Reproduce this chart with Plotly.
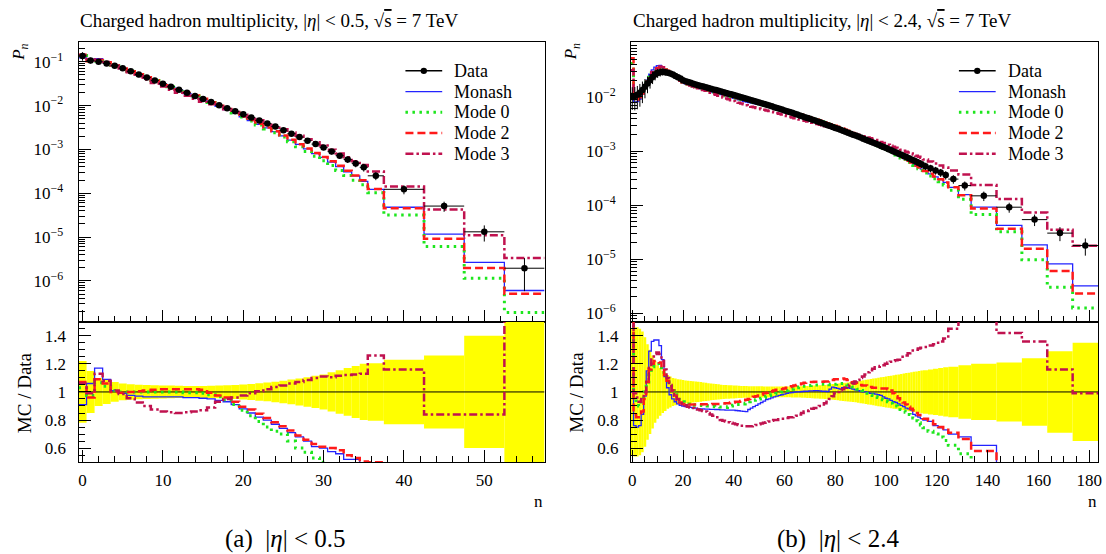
import plotly.graph_objects as go

# ------------------------------------------------------------------ data
# (a) |eta| < 0.5 : bin edges in n
edges_a = [x - 0.5 for x in range(0, 37)] + [37.5, 42.5, 47.5, 52.5, 57.5]
# data P_n
data_a = [0.135, 0.107, 0.100, 0.0912, 0.0813, 0.0708, 0.0603, 0.0513, 0.0437, 0.0372,
          0.0316, 0.0269, 0.0229, 0.0195, 0.0166, 0.0141, 0.0120, 0.0102, 0.0087, 0.0074,
          0.0063, 0.00537, 0.00457, 0.00389, 0.00331, 0.00275, 0.00229, 0.00191, 0.00158, 0.00132,
          0.00110, 0.00089, 0.00072, 0.00059, 0.00048, 0.00039,
          0.00025, 0.000123, 5.1e-5, 1.32e-5, 1.95e-6]
# relative data uncertainty
err_a = [0.22, 0.15, 0.10, 0.085, 0.07, 0.06, 0.055, 0.052, 0.05, 0.048,
         0.046, 0.045, 0.044, 0.043, 0.043, 0.043, 0.044, 0.045, 0.047, 0.05,
         0.053, 0.057, 0.062, 0.067, 0.073, 0.08, 0.088, 0.096, 0.105, 0.115,
         0.125, 0.14, 0.155, 0.17, 0.185, 0.2,
         0.205, 0.23, 0.26, 0.40, 0.70]
# MC / Data ratios
monash_a = [0.91, 1.06, 1.17, 1.09, 1.01, 0.99, 0.975, 0.97, 0.965, 0.965,
            0.965, 0.965, 0.965, 0.96, 0.96, 0.955, 0.95, 0.94, 0.93, 0.91,
            0.88, 0.85, 0.82, 0.80, 0.77, 0.74, 0.71, 0.68, 0.65, 0.61,
            0.60, 0.575, 0.56, 0.52, 0.52, 0.48,
            0.49, 0.39, 0.23, 0.20, 0.31]
mode0_a = [1.03, 0.975, 1.065, 1.04, 1.01, 1.0, 1.0, 1.0, 1.0, 1.0,
           1.0, 1.0, 1.0, 0.995, 0.995, 0.99, 0.98, 0.965, 0.945, 0.91,
           0.87, 0.83, 0.79, 0.75, 0.72, 0.70, 0.65, 0.60, 0.57, 0.53,
           0.50, 0.48, 0.46, 0.43, 0.41, 0.40,
           0.41, 0.26, 0.12, 0.087, 0.098]
mode2_a = [1.07, 0.96, 1.09, 1.06, 1.0, 0.995, 1.0, 1.005, 1.01, 1.015,
           1.02, 1.02, 1.02, 1.02, 1.02, 1.015, 0.995, 0.975, 0.96, 0.93,
           0.895, 0.875, 0.845, 0.815, 0.785, 0.755, 0.725, 0.69, 0.66, 0.63,
           0.61, 0.60, 0.585, 0.55, 0.53, 0.505,
           0.50, 0.37, 0.18, 0.15, 0.26]
mode3_a = [1.06, 0.99, 1.13, 1.08, 1.01, 0.985, 0.955, 0.925, 0.90, 0.875,
           0.86, 0.855, 0.85, 0.855, 0.86, 0.87, 0.89, 0.93, 0.95, 0.96,
           0.975, 0.99, 1.005, 1.02, 1.035, 1.045, 1.06, 1.07, 1.085, 1.10,
           1.11, 1.105, 1.115, 1.12, 1.125, 1.13,
           1.26, 1.16, 0.84, 0.84, 1.7]

# (b) |eta| < 2.4
edges_b = [x - 0.5 for x in range(0, 116)] + [116.5, 118.5, 120.5, 122.5, 124.5, 128.5,
                                              133.5, 143.5, 153.5, 163.5, 173.5, 183.5]
# data log10(P_n)
log10_data_b = [-1.98, -1.98, -1.96, -1.92, -1.87, -1.81, -1.75, -1.69, -1.63, -1.585,
                -1.555, -1.54, -1.535, -1.54, -1.55, -1.565, -1.585, -1.61, -1.635, -1.66,
                -1.690, -1.707, -1.723, -1.738, -1.753, -1.767, -1.781, -1.795, -1.808, -1.821,
                -1.834, -1.847, -1.860, -1.873, -1.886, -1.899, -1.912, -1.925, -1.938, -1.951,
                -1.964, -1.977, -1.990, -2.003, -2.017, -2.031, -2.045, -2.059, -2.073, -2.087,
                -2.101, -2.115, -2.129, -2.143, -2.158, -2.173, -2.188, -2.203, -2.218, -2.233,
                -2.248, -2.263, -2.278, -2.293, -2.309, -2.325, -2.341, -2.357, -2.373, -2.389,
                -2.405, -2.421, -2.437, -2.453, -2.470, -2.487, -2.504, -2.521, -2.538, -2.555,
                -2.572, -2.589, -2.607, -2.625, -2.643, -2.661, -2.679, -2.697, -2.715, -2.733,
                -2.752, -2.771, -2.790, -2.809, -2.828, -2.847, -2.866, -2.886, -2.906, -2.926,
                -2.946, -2.966, -2.986, -3.007, -3.028, -3.049, -3.070, -3.091, -3.112, -3.134,
                -3.156, -3.178, -3.200, -3.222, -3.244,
                -3.28, -3.32, -3.36, -3.40, -3.445, -3.52, -3.64, -3.83, -4.04, -4.27, -4.52, -4.75]
err_b = [0.45, 0.46, 0.46, 0.45, 0.43, 0.39, 0.34, 0.30, 0.26, 0.22,
         0.19, 0.17, 0.15, 0.135, 0.12, 0.11, 0.10, 0.095, 0.09, 0.088,
         0.085, 0.082, 0.08, 0.078, 0.076, 0.074, 0.072, 0.07, 0.067, 0.065,
         0.062, 0.06, 0.058, 0.056, 0.054, 0.052, 0.05, 0.049, 0.048, 0.047,
         0.046, 0.045, 0.044, 0.043, 0.042, 0.042, 0.041, 0.041, 0.04, 0.04,
         0.04, 0.04, 0.039, 0.039, 0.039, 0.038, 0.038, 0.038, 0.038, 0.038,
         0.038, 0.038, 0.038, 0.039, 0.039, 0.04, 0.04, 0.041, 0.042, 0.043,
         0.044, 0.045, 0.046, 0.047, 0.048, 0.049, 0.05, 0.052, 0.054, 0.056,
         0.058, 0.06, 0.062, 0.064, 0.066, 0.068, 0.07, 0.072, 0.074, 0.077,
         0.08, 0.083, 0.086, 0.089, 0.092, 0.095, 0.098, 0.101, 0.104, 0.107,
         0.11, 0.113, 0.116, 0.119, 0.122, 0.125, 0.128, 0.131, 0.134, 0.137,
         0.14, 0.143, 0.146, 0.149, 0.152,
         0.155, 0.16, 0.165, 0.17, 0.175, 0.18, 0.19, 0.2, 0.21, 0.24, 0.29, 0.35]
monash_b = [1.0, 0.76, 0.75, 0.76, 0.84, 0.97, 1.15, 1.29, 1.36, 1.37,
            1.37, 1.33, 1.23, 1.11, 1.03, 0.98, 0.95, 0.93, 0.915, 0.905,
            0.90, 0.895, 0.89, 0.89, 0.885, 0.885, 0.88, 0.88, 0.88, 0.878,
            0.878, 0.876, 0.876, 0.875, 0.875, 0.873, 0.872, 0.871, 0.87, 0.87,
            0.87, 0.868, 0.866, 0.864, 0.862, 0.86, 0.875, 0.885, 0.895, 0.905,
            0.915, 0.925, 0.935, 0.945, 0.95, 0.958, 0.965, 0.97, 0.975, 0.98,
            0.985, 0.99, 0.993, 0.995, 0.998, 1.0, 1.0, 1.003, 1.005, 1.005,
            1.007, 1.008, 1.01, 1.01, 1.008, 1.005, 1.005, 1.003, 1.02, 1.035,
            1.03, 1.025, 1.02, 1.03, 1.035, 1.03, 1.025, 1.02, 1.015, 1.01,
            1.005, 1.0, 1.0, 0.995, 0.99, 0.99, 0.985, 0.98, 0.975, 0.965,
            0.955, 0.95, 0.94, 0.93, 0.925, 0.915, 0.905, 0.895, 0.885, 0.88,
            0.87, 0.84, 0.83, 0.82, 0.81,
            0.80, 0.79, 0.76, 0.745, 0.73, 0.70, 0.68, 0.62, 0.46, 0.34, 0.27, 0.18]
mode0_b = [4.0, 0.95, 0.92, 0.90, 0.93, 1.0, 1.07, 1.14, 1.18, 1.20,
           1.20, 1.19, 1.15, 1.11, 1.07, 1.04, 1.01, 0.98, 0.96, 0.945,
           0.93, 0.92, 0.915, 0.91, 0.908, 0.906, 0.905, 0.904, 0.903, 0.902,
           0.90, 0.898, 0.896, 0.895, 0.893, 0.892, 0.891, 0.89, 0.895, 0.90,
           0.905, 0.91, 0.91, 0.91, 0.915, 0.92, 0.93, 0.935, 0.94, 0.945,
           0.95, 0.955, 0.96, 0.97, 0.975, 0.98, 0.985, 0.99, 0.995, 1.0,
           1.005, 1.01, 1.015, 1.02, 1.025, 1.03, 1.035, 1.04, 1.04, 1.045,
           1.045, 1.05, 1.05, 1.05, 1.052, 1.055, 1.055, 1.055, 1.052, 1.05,
           1.055, 1.06, 1.06, 1.06, 1.055, 1.05, 1.045, 1.035, 1.03, 1.02,
           1.015, 1.01, 1.0, 0.99, 0.98, 0.975, 0.965, 0.96, 0.95, 0.945,
           0.935, 0.93, 0.92, 0.91, 0.90, 0.89, 0.875, 0.865, 0.855, 0.84,
           0.83, 0.815, 0.795, 0.78, 0.765,
           0.745, 0.72, 0.70, 0.68, 0.655, 0.62, 0.56, 0.45, 0.35, 0.18, 0.10, 0.07]
mode2_b = [5.0, 0.84, 0.82, 0.82, 0.86, 0.95, 1.07, 1.16, 1.20, 1.22,
           1.22, 1.21, 1.17, 1.12, 1.08, 1.04, 1.01, 0.975, 0.945, 0.925,
           0.915, 0.91, 0.91, 0.91, 0.91, 0.91, 0.91, 0.912, 0.912, 0.912,
           0.913, 0.913, 0.914, 0.914, 0.915, 0.915, 0.917, 0.92, 0.92, 0.925,
           0.925, 0.93, 0.93, 0.935, 0.94, 0.945, 0.95, 0.955, 0.965, 0.97,
           0.975, 0.98, 0.99, 0.995, 1.0, 1.005, 1.01, 1.015, 1.02, 1.02,
           1.025, 1.03, 1.035, 1.04, 1.045, 1.05, 1.055, 1.06, 1.065, 1.07,
           1.07, 1.07, 1.072, 1.072, 1.073, 1.073, 1.074, 1.075, 1.08, 1.085,
           1.09, 1.09, 1.095, 1.095, 1.09, 1.085, 1.08, 1.07, 1.06, 1.055,
           1.05, 1.045, 1.045, 1.04, 1.035, 1.03, 1.03, 1.025, 1.025, 1.025,
           1.025, 1.02, 1.01, 0.99, 0.97, 0.955, 0.94, 0.925, 0.91, 0.895,
           0.88, 0.87, 0.85, 0.835, 0.825,
           0.81, 0.795, 0.77, 0.75, 0.73, 0.71, 0.665, 0.58, 0.40, 0.29, 0.20, 0.13]
mode3_b = [3.0, 0.99, 0.96, 0.93, 0.95, 1.0, 1.08, 1.17, 1.24, 1.27,
           1.28, 1.27, 1.22, 1.16, 1.10, 1.05, 1.01, 0.975, 0.95, 0.93,
           0.915, 0.905, 0.895, 0.89, 0.885, 0.88, 0.875, 0.87, 0.865, 0.86,
           0.85, 0.84, 0.83, 0.82, 0.81, 0.80, 0.795, 0.79, 0.785, 0.78,
           0.775, 0.77, 0.765, 0.76, 0.76, 0.755, 0.755, 0.755, 0.76, 0.765,
           0.77, 0.775, 0.78, 0.785, 0.79, 0.795, 0.80, 0.80, 0.805, 0.81,
           0.81, 0.815, 0.82, 0.82, 0.825, 0.83, 0.84, 0.85, 0.86, 0.865,
           0.87, 0.88, 0.885, 0.895, 0.90, 0.91, 0.92, 0.93, 0.95, 0.97,
           0.99, 1.0, 1.01, 1.02, 1.03, 1.04, 1.05, 1.06, 1.075, 1.085,
           1.10, 1.11, 1.125, 1.14, 1.155, 1.165, 1.175, 1.18, 1.185, 1.19,
           1.20, 1.21, 1.215, 1.22, 1.225, 1.23, 1.24, 1.25, 1.26, 1.275,
           1.285, 1.295, 1.30, 1.31, 1.315,
           1.32, 1.33, 1.34, 1.36, 1.38, 1.45, 1.6, 1.58, 1.42, 1.36, 1.16, 0.99]

series_names = ["Monash", "Mode 0", "Mode 2", "Mode 3"]
legend_labels = ["Data", "Monash", "Mode 0", "Mode 2", "Mode 3"]
titles = ["Charged hadron multiplicity, |<i>η</i>| < 0.5, √<span style='text-decoration:overline'>s</span> = 7 TeV",
          "Charged hadron multiplicity, |<i>η</i>| < 2.4, √<span style='text-decoration:overline'>s</span> = 7 TeV"]
captions = ["(a)  |<i>η</i>| < 0.5", "(b)  |<i>η</i>| < 2.4"]

# ------------------------------------------------------------------ styles
FONT = "Liberation Serif"
styles = {
    "Monash": dict(color="#2323ff", width=1.3, dash="solid"),
    "Mode 0": dict(color="#1ee61e", width=3, dash="2.5px,4.5px"),
    "Mode 2": dict(color="#ff1a1a", width=2.5, dash="8px,4px"),
    "Mode 3": dict(color="#c0124f", width=2.5, dash="8px,3px,2.5px,3px"),
}
W, H = 1106, 554
def px_x(p): return p / W
def px_y(p): return 1 - p / H

panels = [
    dict(edges=edges_a, data=data_a, err=err_a,
         ratios=[monash_a, mode0_a, mode2_a, mode3_a],
         xdom=[px_x(76), px_x(545)], xrange=[-0.5, 57.5], dtick=10, mdtick=2,
         yrange=[-6.93, -0.56], decades=[-1, -2, -3, -4, -5, -6],
         title_x=76, caption_x=284),
    dict(edges=edges_b, data=[10 ** v for v in log10_data_b], err=err_b,
         ratios=[monash_b, mode0_b, mode2_b, mode3_b],
         xdom=[px_x(632), px_x(1102)], xrange=[-0.5, 183.5], dtick=20, mdtick=5,
         yrange=[-6.16, -0.99], decades=[-2, -3, -4, -5, -6],
         title_x=633, caption_x=840),
]

main_dom = [px_y(322.3), px_y(42.5)]
ratio_dom = [px_y(463), px_y(322.3)]

fig = go.Figure()
layout = dict(width=W, height=H, margin=dict(l=0, r=0, t=0, b=0),
              paper_bgcolor="white", plot_bgcolor="white",
              font=dict(family=FONT, size=15, color="black"),
              showlegend=False, annotations=[], shapes=[])

minor_log = [k * 10.0 ** e for e in range(-8, 1) for k in range(2, 10)]
sup = {-1: "−1", -2: "−2", -3: "−3", -4: "−4", -5: "−5", -6: "−6"}

for i, pnl in enumerate(panels):
    xm, ym = f"x{2*i+1}", f"y{2*i+1}"
    xr, yr = f"x{2*i+2}", f"y{2*i+2}"
    edges = pnl["edges"]
    centers = [(edges[j] + edges[j + 1]) / 2 for j in range(len(edges) - 1)]
    widths = [edges[j + 1] - edges[j] for j in range(len(edges) - 1)]
    data = pnl["data"]
    err = pnl["err"]

    # ratio band
    fig.add_trace(go.Bar(x=centers, y=[2 * e for e in err], base=[1 - e for e in err],
                         width=widths, marker=dict(color="#ffff00", line=dict(width=0)),
                         xaxis=xr, yaxis=yr, hoverinfo="skip"))
    fig.add_trace(go.Scatter(x=[edges[0], edges[-1]], y=[1, 1], mode="lines",
                             line=dict(color="black", width=1), xaxis=xr, yaxis=yr,
                             hoverinfo="skip"))

    for name, ratio in zip(series_names, pnl["ratios"]):
        st = styles[name]
        mc = [r * d for r, d in zip(ratio, data)]
        line = dict(color=st["color"], width=st["width"], dash=st["dash"], shape="hv")
        fig.add_trace(go.Scatter(x=edges, y=mc + [mc[-1]], mode="lines", name=name,
                                 line=line, xaxis=xm, yaxis=ym, hoverinfo="skip"))
        fig.add_trace(go.Scatter(x=edges, y=list(ratio) + [ratio[-1]], mode="lines",
                                 name=name, line=line, xaxis=xr, yaxis=yr,
                                 hoverinfo="skip"))

    # data points
    fig.add_trace(go.Scatter(
        x=centers, y=data, mode="markers", name="Data",
        marker=dict(color="black", size=6.5),
        error_y=dict(type="data", array=[e * d for e, d in zip(err, data)],
                     color="black", thickness=1, width=0),
        error_x=dict(type="data", array=[w / 2 for w in widths],
                     color="black", thickness=1, width=0),
        xaxis=xm, yaxis=ym, hoverinfo="skip"))

    common_x = dict(domain=pnl["xdom"], range=pnl["xrange"], showgrid=False, zeroline=False,
                    showline=True, mirror=True, linecolor="black", linewidth=1,
                    ticks="inside", ticklen=12, tickwidth=1, tickcolor="black",
                    tick0=0, dtick=pnl["dtick"],
                    minor=dict(ticks="inside", ticklen=6, tickwidth=1, tickcolor="black",
                               tick0=0, dtick=pnl["mdtick"], showgrid=False))
    layout[f"xaxis{2*i+1}"] = dict(common_x, anchor=ym, showticklabels=False)
    layout[f"xaxis{2*i+2}"] = dict(common_x, anchor=yr, showticklabels=True,
                                   tickfont=dict(size=17), ticklabelstandoff=2)
    layout[f"yaxis{2*i+1}"] = dict(
        domain=main_dom, anchor=xm, type="log", range=pnl["yrange"],
        showgrid=False, zeroline=False, showline=True, mirror=True,
        linecolor="black", linewidth=1, ticks="inside", ticklen=12, tickwidth=1,
        tickcolor="black", tickmode="array",
        tickvals=[10.0 ** d for d in pnl["decades"]],
        ticktext=[f"10<sup>{sup[d]}</sup>" for d in pnl["decades"]],
        tickfont=dict(size=17), ticklabelstandoff=11,
        minor=dict(ticks="inside", ticklen=6, tickwidth=1, tickcolor="black",
                   tickmode="array", tickvals=minor_log, showgrid=False))
    layout[f"yaxis{2*i+2}"] = dict(
        domain=ratio_dom, anchor=xr, range=[0.5, 1.5],
        showgrid=False, zeroline=False, showline=True, mirror=True,
        linecolor="black", linewidth=1, ticks="inside", ticklen=12, tickwidth=1,
        tickcolor="black", tickmode="array", tickvals=[0.6, 0.8, 1.0, 1.2, 1.4],
        ticktext=["0.6", "0.8", "1", "1.2", "1.4"], tickfont=dict(size=17),
        ticklabelstandoff=8,
        minor=dict(ticks="inside", ticklen=6, tickwidth=1, tickcolor="black",
                   tick0=0.5, dtick=0.05, showgrid=False))

    # legend (drawn in paper space)
    right = pnl["xdom"][1] * W
    left = pnl["xdom"][0] * W
    lx0, lx1, tx = right - 140, right - 103, right - 93
    for k, lab in enumerate(legend_labels):
        yy = 71 + 20.75 * k
        if lab == "Data":
            layout["shapes"].append(dict(type="line", xref="paper", yref="paper",
                                         x0=px_x(lx0), x1=px_x(lx1), y0=px_y(yy), y1=px_y(yy),
                                         line=dict(color="black", width=1.5)))
            cx = (lx0 + lx1) / 2
            layout["shapes"].append(dict(type="circle", xref="paper", yref="paper",
                                         x0=px_x(cx - 3.2), x1=px_x(cx + 3.2),
                                         y0=px_y(yy - 3.2), y1=px_y(yy + 3.2),
                                         fillcolor="black", line=dict(color="black", width=0)))
        else:
            st = styles[lab]
            layout["shapes"].append(dict(type="line", xref="paper", yref="paper",
                                         x0=px_x(lx0), x1=px_x(lx1), y0=px_y(yy), y1=px_y(yy),
                                         line=dict(color=st["color"], width=st["width"],
                                                   dash=st["dash"])))
        layout["annotations"].append(dict(text=lab, x=px_x(tx), y=px_y(yy), xref="paper",
                                          yref="paper", xanchor="left", yanchor="middle",
                                          showarrow=False, font=dict(size=18)))

    layout["annotations"] += [
        dict(text=titles[i], x=px_x(pnl["title_x"] - 1), y=px_y(21), xref="paper", yref="paper",
             xanchor="left", yanchor="middle", showarrow=False, font=dict(size=19)),
        dict(text="<i>P</i><sub><i>n</i></sub>", x=px_x(left - 59), y=px_y(52),
             xref="paper", yref="paper", textangle=-90, xanchor="center", yanchor="middle",
             showarrow=False, font=dict(size=17)),
        dict(text="MC / Data", x=px_x(left - 55), y=px_y(393), xref="paper", yref="paper",
             textangle=-90, xanchor="center", yanchor="middle", showarrow=False,
             font=dict(size=19)),
        dict(text="n", x=px_x(right - 6), y=px_y(502), xref="paper", yref="paper",
             xanchor="center", yanchor="middle", showarrow=False, font=dict(size=17)),
        dict(text=captions[i], x=px_x(pnl["caption_x"]), y=px_y(540), xref="paper",
             yref="paper", xanchor="center", yanchor="middle", showarrow=False,
             font=dict(size=25)),
    ]

fig.update_layout(**layout)
fig.write_html("out.html", config={"displayModeBar": False},
               post_script="document.body.style.margin='0';document.body.style.overflow='hidden';")
